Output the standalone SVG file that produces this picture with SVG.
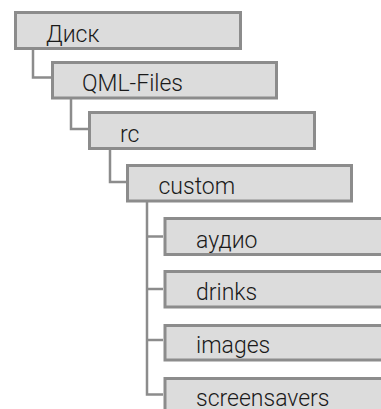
<svg xmlns="http://www.w3.org/2000/svg" width="381" height="409" viewBox="0 0 381 409">
<style>
.box{fill:#dcdcdc;stroke:#8c8c8c;stroke-width:3}
.lbl{font-family:Roboto,"Liberation Sans",sans-serif;font-size:23px;font-weight:300;fill:#1a1a1a}
.conn{fill:none;stroke:#8c8c8c;stroke-width:2.5}
</style>
<rect width="381" height="409" fill="#fff"/>
<g id="connectors">
<path class="conn" d="M33 50V77.5H51"/>
<path class="conn" d="M71 99V129H88"/>
<path class="conn" d="M110 150V182H126"/>
<path class="conn" d="M147 202V394.5H163"/>
<path class="conn" d="M147 236.5H163"/>
<path class="conn" d="M147 289H163"/>
<path class="conn" d="M147 340H163"/>
</g>
<g id="disk"><rect class="box" x="15.5" y="12.5" width="225" height="36"/><text class="lbl" x="46" y="41.5">Диск</text></g>
<g id="qml"><rect class="box" x="52.5" y="62.5" width="224" height="35.5"/><text class="lbl" x="82" y="91">QML-Files</text></g>
<g id="rc"><rect class="box" x="89.5" y="112.5" width="225" height="36"/><text class="lbl" x="120" y="141.5">rc</text></g>
<g id="custom"><rect class="box" x="127.5" y="165.5" width="224" height="35.5"/><text class="lbl" x="158.5" y="194">custom</text></g>
<g id="audio"><rect class="box" x="165" y="218.5" width="240" height="36"/><text class="lbl" x="196" y="247.5">аудио</text></g>
<g id="drinks"><rect class="box" x="165" y="271.5" width="240" height="35.5"/><text class="lbl" x="196" y="300">drinks</text></g>
<g id="images"><rect class="box" x="165" y="325.5" width="240" height="34.5"/><text class="lbl" x="196" y="353">images</text></g>
<g id="screensavers"><rect class="box" x="165" y="378.5" width="240" height="40"/><text class="lbl" x="196" y="405.5">screensavers</text></g>
</svg>
